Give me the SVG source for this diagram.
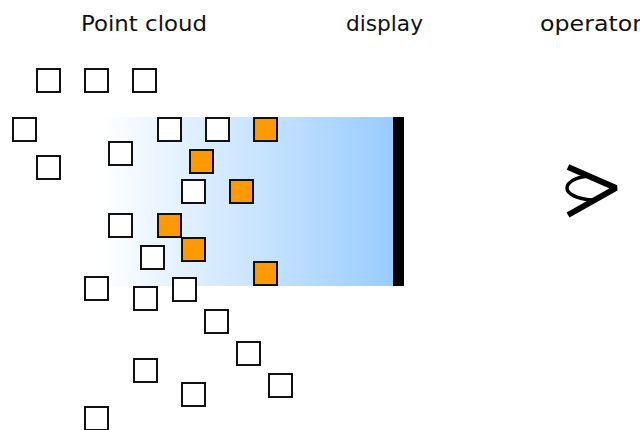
<svg xmlns="http://www.w3.org/2000/svg" width="640" height="430" viewBox="0 0 640 430">
<defs>
<linearGradient id="g" x1="0" y1="0" x2="1" y2="0">
<stop offset="0" stop-color="#ffffff"/>
<stop offset="1" stop-color="#99ccff"/>
</linearGradient>
</defs>
<style>
.lbl{font-family:"DejaVu Sans","Liberation Sans",sans-serif;font-size:22px;fill:#111;}
.pt{fill:#fff;stroke:#111;stroke-width:2;}
.hit{fill:#ff9900;stroke:#111;stroke-width:2;}
.eye{fill:none;stroke:#000;}
</style>
<rect width="640" height="430" fill="#fff"/>
<g id="labels">
<text class="lbl" x="81" y="31" textLength="126" lengthAdjust="spacingAndGlyphs">Point cloud</text>
<text class="lbl" x="346" y="31" textLength="77" lengthAdjust="spacingAndGlyphs">display</text>
<text class="lbl" x="540" y="31" textLength="102" lengthAdjust="spacingAndGlyphs">operator</text>
</g>
<g id="display">
<rect x="100" y="117" width="293" height="169" fill="url(#g)"/>
<rect x="393" y="117" width="11" height="169" fill="#000"/>
</g>
<g id="points">
<g id="p1"><rect class="pt" x="37" y="69" width="23" height="23"/></g>
<g id="p2"><rect class="pt" x="85" y="69" width="23" height="23"/></g>
<g id="p3"><rect class="pt" x="133" y="69" width="23" height="23"/></g>
<g id="p4"><rect class="pt" x="13" y="118" width="23" height="23"/></g>
<g id="p5"><rect class="pt" x="37" y="156" width="23" height="23"/></g>
<g id="p6"><rect class="pt" x="109" y="142" width="23" height="23"/></g>
<g id="p7"><rect class="pt" x="158" y="118" width="23" height="23"/></g>
<g id="p8"><rect class="pt" x="206" y="118" width="23" height="23"/></g>
<g id="p9"><rect class="pt" x="182" y="180" width="23" height="23"/></g>
<g id="p10"><rect class="pt" x="109" y="214" width="23" height="23"/></g>
<g id="p11"><rect class="pt" x="141" y="246" width="23" height="23"/></g>
<g id="p12"><rect class="pt" x="85" y="277" width="23" height="23"/></g>
<g id="p13"><rect class="pt" x="134" y="287" width="23" height="23"/></g>
<g id="p14"><rect class="pt" x="173" y="278" width="23" height="23"/></g>
<g id="p15"><rect class="pt" x="205" y="310" width="23" height="23"/></g>
<g id="p16"><rect class="pt" x="237" y="342" width="23" height="23"/></g>
<g id="p17"><rect class="pt" x="269" y="374" width="23" height="23"/></g>
<g id="p18"><rect class="pt" x="134" y="359" width="23" height="23"/></g>
<g id="p19"><rect class="pt" x="182" y="383" width="23" height="23"/></g>
<g id="p20"><rect class="pt" x="85" y="407" width="23" height="23"/></g>
<g id="h1"><rect class="hit" x="254" y="118" width="23" height="23"/></g>
<g id="h2"><rect class="hit" x="190" y="150" width="23" height="23"/></g>
<g id="h3"><rect class="hit" x="230" y="180" width="23" height="23"/></g>
<g id="h4"><rect class="hit" x="158" y="214" width="23" height="23"/></g>
<g id="h5"><rect class="hit" x="182" y="238" width="23" height="23"/></g>
<g id="h6"><rect class="hit" x="254" y="262" width="23" height="23"/></g>
</g>
<g id="operator">
<path class="eye" stroke-width="6" stroke-linejoin="bevel" d="M568 167 L616 188 L568 215"/>
<path class="eye" stroke-width="3.5" d="M592 176 C577 176 567 182 567 188 C567 194 577 199 592 200"/>
</g>
</svg>
